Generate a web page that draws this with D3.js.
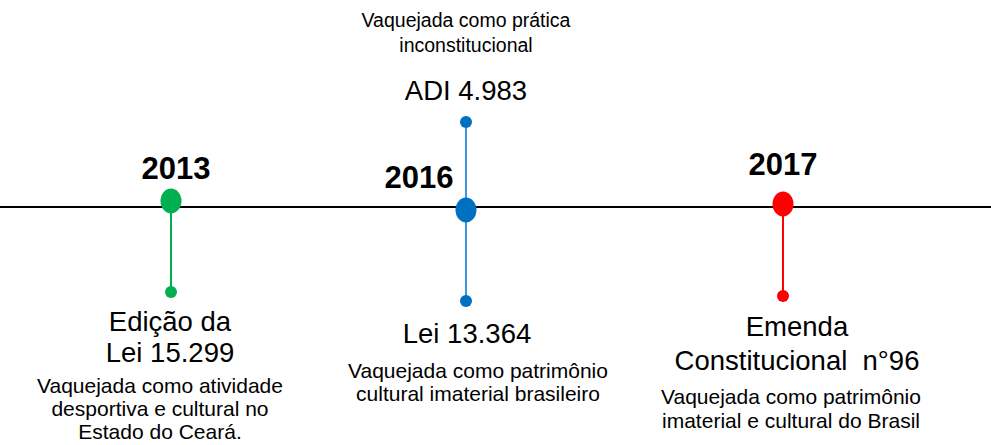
<!DOCTYPE html>
<html>
<head>
<meta charset="utf-8">
<script src="https://cdn.jsdelivr.net/npm/d3@7"></script>
<style>
  body { margin: 0; background: #fff; }
  svg { display: block; font-family: "Liberation Sans", Arial, sans-serif; }
</style>
</head>
<body>
<div id="chart"></div>
<script>
// timeline data
const years = ["2013", "2016", "2017"];
const colors = ["#00B050", "#0070C0", "#FF0000"];
const stemColors = ["#00B050", "#3A9BDC", "#FF0000"];
const titlesBelow = [["Edição da", "Lei 15.299"], ["Lei 13.364"], ["Emenda", "Constitucional  n°96"]];
const notesBelow = [
  ["Vaquejada como atividade", "desportiva e cultural no", "Estado do Ceará."],
  ["Vaquejada como patrimônio", "cultural imaterial brasileiro"],
  ["Vaquejada como patrimônio", "imaterial e cultural do Brasil"]
];
const titlesAbove = [[], ["ADI 4.983"], []];
const notesAbove = [[], ["Vaquejada como prática", "inconstitucional"], []];

const width = 991, height = 445;
const axisY = 207;

let x = d3.scaleOrdinal().domain(years).range([171, 466, 783]);
let dotY = d3.scaleOrdinal().domain(years).range([201, 210, 204]);
let stemEnd = d3.scaleOrdinal().domain(years).range([292, 301, 296]);
let yearLabel = d3.scaleOrdinal().domain(years).range([[176, 179], [419, 188], [783, 175]]);
let belowTitleY = d3.scaleOrdinal().domain(years).range([331, 343, 336]);
let titleGap = d3.scaleOrdinal().domain(years).range([31, 31, 34]);
let belowNoteY = d3.scaleOrdinal().domain(years).range([393, 378, 404]);
let noteGap = d3.scaleOrdinal().domain(years).range([23, 23, 24]);
let belowTitleX = d3.scaleOrdinal().domain(years).range([170, 467, 797]);
let belowNoteX = d3.scaleOrdinal().domain(years).range([160, 478, 791]);

let svg = d3
  .select("#chart")
  .append("svg")
  .attr("width", width)
  .attr("height", height);

svg
  .append("line")
  .attr("x1", 0)
  .attr("x2", width)
  .attr("y1", axisY)
  .attr("y2", axisY)
  .attr("stroke", "#000")
  .attr("stroke-width", 2);

let ev = svg
  .selectAll("g.event")
  .data(years)
  .join("g")
  .attr("class", "event");

// stems going down
ev.append("line")
  .attr("x1", d => x(d))
  .attr("x2", d => x(d))
  .attr("y1", d => dotY(d))
  .attr("y2", d => stemEnd(d))
  .attr("stroke", (d, i) => stemColors[i])
  .attr("stroke-width", 2);

// stem going up (only where there is something above)
let up = ev.filter((d, i) => titlesAbove[i].length > 0);

up.append("line")
  .attr("x1", d => x(d))
  .attr("x2", d => x(d))
  .attr("y1", d => dotY(d))
  .attr("y2", 122)
  .attr("stroke", (d, i) => stemColors[years.indexOf(d)])
  .attr("stroke-width", 2);

up.append("circle")
  .attr("cx", d => x(d))
  .attr("cy", 122)
  .attr("r", 6)
  .attr("fill", d => colors[years.indexOf(d)]);

ev.append("circle")
  .attr("cx", d => x(d))
  .attr("cy", d => stemEnd(d))
  .attr("r", 6)
  .attr("fill", (d, i) => colors[i]);

ev.append("ellipse")
  .attr("cx", d => x(d))
  .attr("cy", d => dotY(d))
  .attr("rx", 10.5)
  .attr("ry", 12.5)
  .attr("fill", (d, i) => colors[i]);

// year labels
ev.append("text")
  .attr("x", d => yearLabel(d)[0])
  .attr("y", d => yearLabel(d)[1])
  .attr("text-anchor", "middle")
  .attr("font-size", 31)
  .attr("font-weight", "bold")
  .text(d => d);

// text blocks
ev.each(function (d, i) {
  let g = d3.select(this);
  titlesBelow[i].forEach((t, j) => {
    g.append("text")
      .attr("x", belowTitleX(d))
      .attr("y", belowTitleY(d) + j * titleGap(d))
      .attr("text-anchor", "middle")
      .attr("font-size", 27.5)
      .attr("xml:space", "preserve")
      .text(t);
  });
  notesBelow[i].forEach((t, j) => {
    g.append("text")
      .attr("x", belowNoteX(d))
      .attr("y", belowNoteY(d) + j * noteGap(d))
      .attr("text-anchor", "middle")
      .attr("font-size", 21)
      .text(t);
  });
  notesAbove[i].forEach((t, j) => {
    g.append("text")
      .attr("x", x(d))
      .attr("y", 27 + j * 25)
      .attr("text-anchor", "middle")
      .attr("font-size", 19.5)
      .text(t);
  });
  titlesAbove[i].forEach(t => {
    g.append("text")
      .attr("x", x(d))
      .attr("y", 100)
      .attr("text-anchor", "middle")
      .attr("font-size", 27.5)
      .text(t);
  });
});
</script>
</body>
</html>
